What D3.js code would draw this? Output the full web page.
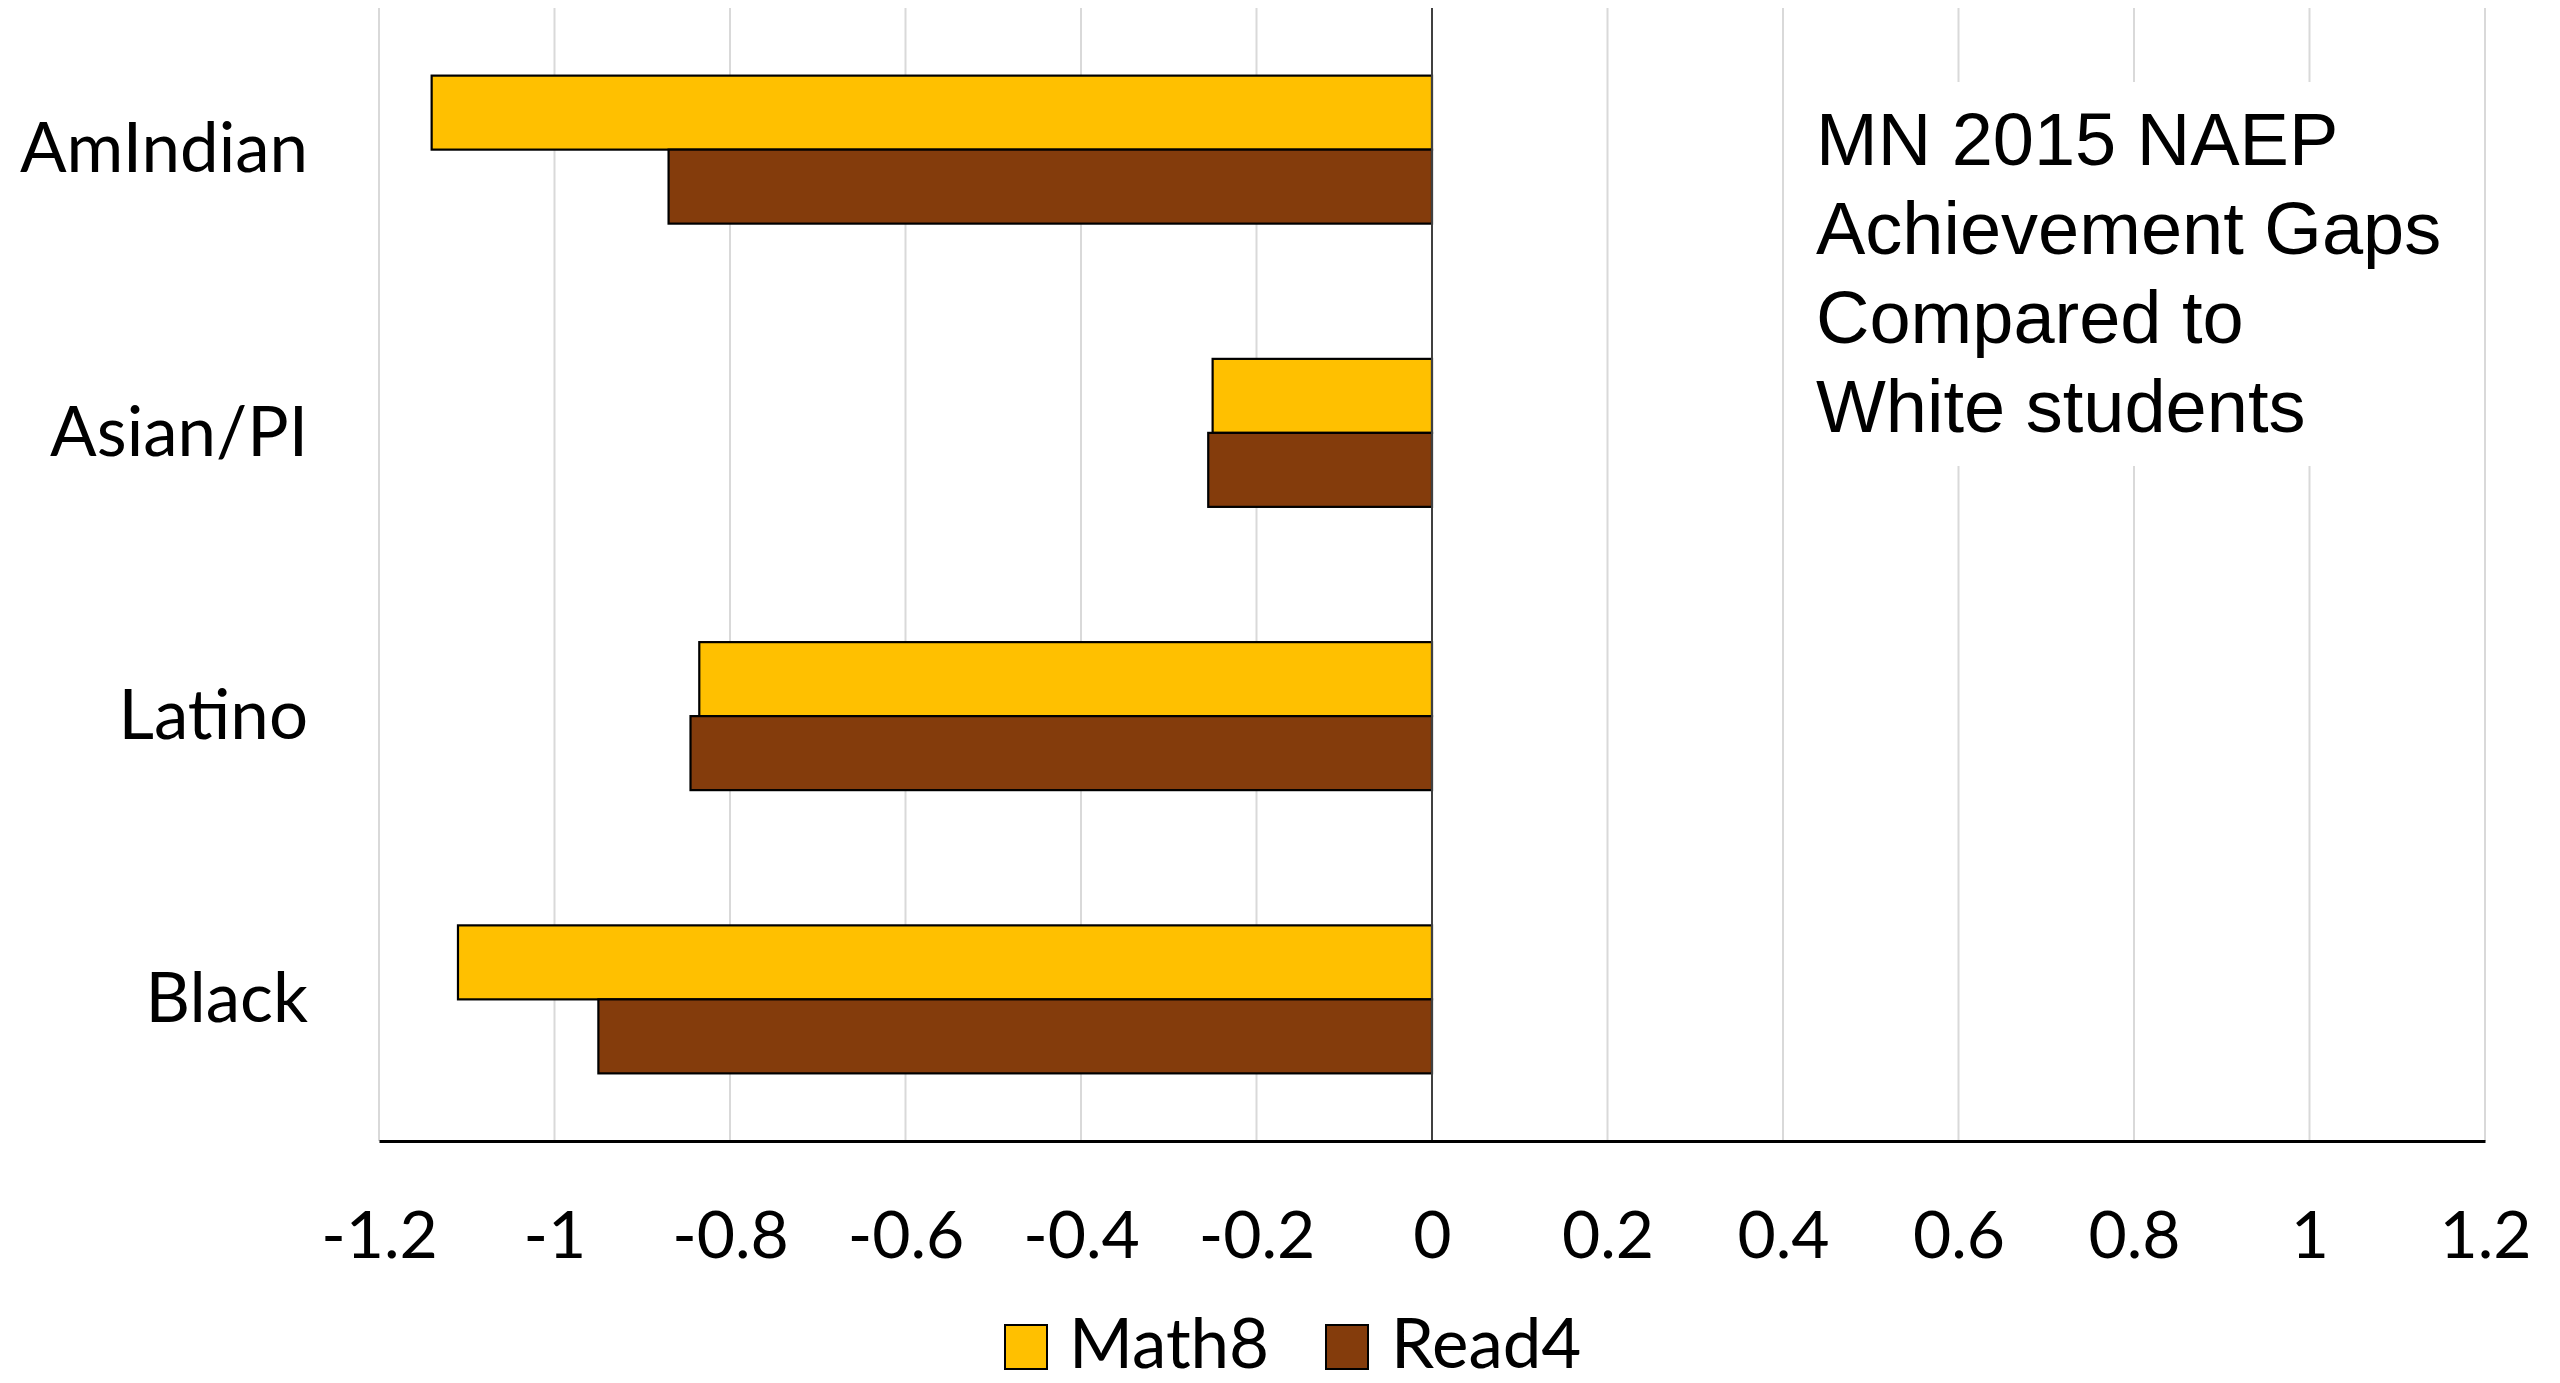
<!DOCTYPE html>
<html>
<head>
<meta charset="utf-8">
<script src="https://cdn.jsdelivr.net/npm/d3@7/dist/d3.min.js"></script>
<style>
  html, body { margin: 0; padding: 0; background: #fff; }
  svg { display: block; }
</style>
</head>
<body>
<svg id="chart" width="2560" height="1383"></svg>
<script>
const categories = ["AmIndian", "Asian/PI", "Latino", "Black"];
const seriesNames = ["Math8", "Read4"];
const math8 = [-1.14, -0.25, -0.835, -1.11];
const read4 = [-0.87, -0.255, -0.845, -0.95];
const tickValues = [-1.2, -1, -0.8, -0.6, -0.4, -0.2, 0, 0.2, 0.4, 0.6, 0.8, 1, 1.2];
const tickLabels = ["-1.2", "-1", "-0.8", "-0.6", "-0.4", "-0.2", "0", "0.2", "0.4", "0.6", "0.8", "1", "1.2"];
const titleLines = ["MN 2015 NAEP", "Achievement Gaps", "Compared to", "White students"];
const colors = { Math8: "#FFC000", Read4: "#843C0C" };

const seriesData = { Math8: math8, Read4: read4 };
const data = categories.map((c, i) => ({
  cat: c,
  values: seriesNames.map(s => ({ series: s, value: seriesData[s][i] }))
}));

const svg = d3.select("#chart");
const plotLeft = 379, plotRight = 2485, plotTop = 8, plotBottom = 1141;
const catFont = "Lato, 'Open Sans', sans-serif";

const x = d3.scaleLinear().domain([-1.2, 1.2]).range([plotLeft, plotRight]);
const y = d3.scaleBand().domain(categories).range([plotTop, plotBottom])
  .paddingInner(0.4775).paddingOuter(0.4775 / 2);
const ySub = d3.scaleBand().domain(seriesNames).range([0, y.bandwidth()]).padding(0);

// gridlines
svg.append("g").selectAll("line").data(tickValues).join("line")
  .attr("x1", d => x(d)).attr("x2", d => x(d))
  .attr("y1", plotTop).attr("y2", plotBottom)
  .attr("stroke", "#d9d9d9").attr("stroke-width", 2);

// title box background
svg.append("rect").attr("x", 1792).attr("y", 82).attr("width", 680).attr("height", 384).attr("fill", "#fff");
svg.append("g").selectAll("text").data(titleLines).join("text")
  .attr("x", 1816).attr("y", (d, i) => 165 + i * 89)
  .attr("font-family", "'Liberation Sans', Arial, sans-serif")
  .attr("font-size", 74).attr("fill", "#000")
  .text(d => d);

// bars
const groups = svg.append("g").selectAll("g").data(data).join("g")
  .attr("transform", d => `translate(0,${y(d.cat)})`);
groups.selectAll("rect").data(d => d.values).join("rect")
  .attr("x", d => x(Math.min(0, d.value)))
  .attr("width", d => Math.abs(x(d.value) - x(0)))
  .attr("y", d => ySub(d.series))
  .attr("height", ySub.bandwidth())
  .attr("fill", d => colors[d.series])
  .attr("stroke", "#000").attr("stroke-width", 2.2);

// zero line
svg.append("line").attr("x1", x(0)).attr("x2", x(0)).attr("y1", plotTop).attr("y2", plotBottom)
  .attr("stroke", "#404040").attr("stroke-width", 2);

// x axis
const xAxis = d3.axisBottom(x).tickValues(tickValues).tickSize(0)
  .tickFormat((d, i) => tickLabels[i]);
const gx = svg.append("g").attr("transform", `translate(0,${plotBottom})`).call(xAxis);
gx.select(".domain").attr("stroke", "#000").attr("stroke-width", 3);
gx.selectAll("text").attr("font-family", catFont).attr("font-size", 66)
  .attr("fill", "#000").attr("dy", null).attr("y", 117);

// category labels (y axis)
const yAxis = d3.axisLeft(y).tickSize(0).tickPadding(0);
const gy = svg.append("g").attr("transform", `translate(308,0)`).call(yAxis);
gy.select(".domain").remove();
gy.selectAll("text").attr("font-family", catFont).attr("font-size", 69)
  .attr("fill", "#000").attr("dy", "0.33em").attr("x", 0);

// legend
const legendItems = [
  { name: "Math8", sx: 1005, tx: 1069 },
  { name: "Read4", sx: 1326, tx: 1391 }
];
const lg = svg.append("g").selectAll("g").data(legendItems).join("g");
lg.append("rect").attr("x", d => d.sx).attr("y", 1325).attr("width", 42).attr("height", 44)
  .attr("fill", d => colors[d.name]).attr("stroke", "#000").attr("stroke-width", 2);
lg.append("text").attr("x", d => d.tx).attr("y", 1368)
  .attr("font-family", catFont).attr("font-size", 69).attr("fill", "#000")
  .text(d => d.name);
</script>
</body>
</html>
